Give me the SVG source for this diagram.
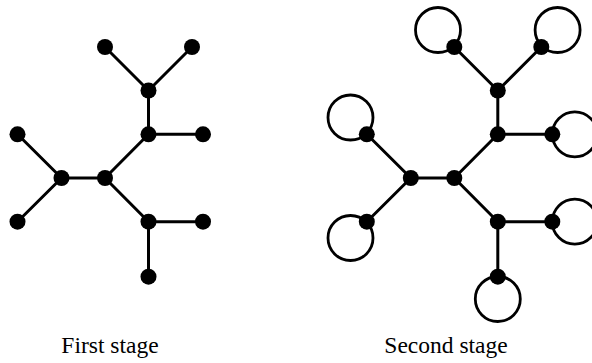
<svg xmlns="http://www.w3.org/2000/svg" width="592" height="363" viewBox="0 0 592 363">
<style>
.e{stroke:#000;stroke-width:3;fill:none;stroke-linecap:round}
.l{stroke:#000;stroke-width:2.8;fill:none}
.n{fill:#000}
.t{font-family:"Liberation Serif","Times New Roman",serif;font-size:23.5px;fill:#000;text-anchor:middle}
</style>
<rect width="592" height="363" fill="#fff"/>
<g id="connectors">
<g id="edges-first">
<line class="e" x1="105" y1="47" x2="148.5" y2="90.5"/>
<line class="e" x1="192" y1="47" x2="148.5" y2="90.5"/>
<line class="e" x1="148.5" y1="90.5" x2="148.5" y2="134.3"/>
<line class="e" x1="148.5" y1="134.3" x2="203" y2="134.3"/>
<line class="e" x1="148.5" y1="134.3" x2="105" y2="178"/>
<line class="e" x1="105" y1="178" x2="61.5" y2="178"/>
<line class="e" x1="61.5" y1="178" x2="17.5" y2="134.3"/>
<line class="e" x1="61.5" y1="178" x2="17.5" y2="221.7"/>
<line class="e" x1="105" y1="178" x2="148.5" y2="221.7"/>
<line class="e" x1="148.5" y1="221.7" x2="203" y2="221.7"/>
<line class="e" x1="148.5" y1="221.7" x2="148.5" y2="276.7"/>
</g>
<g id="edges-second" transform="translate(349.3,0)">
<line class="e" x1="105" y1="47" x2="148.5" y2="90.5"/>
<line class="e" x1="192" y1="47" x2="148.5" y2="90.5"/>
<line class="e" x1="148.5" y1="90.5" x2="148.5" y2="134.3"/>
<line class="e" x1="148.5" y1="134.3" x2="203" y2="134.3"/>
<line class="e" x1="148.5" y1="134.3" x2="105" y2="178"/>
<line class="e" x1="105" y1="178" x2="61.5" y2="178"/>
<line class="e" x1="61.5" y1="178" x2="17.5" y2="134.3"/>
<line class="e" x1="61.5" y1="178" x2="17.5" y2="221.7"/>
<line class="e" x1="105" y1="178" x2="148.5" y2="221.7"/>
<line class="e" x1="148.5" y1="221.7" x2="203" y2="221.7"/>
<line class="e" x1="148.5" y1="221.7" x2="148.5" y2="276.7"/>
</g>
<g id="loops-second" transform="translate(349.3,0)">
<circle class="l" cx="88.7" cy="30" r="22.5"/>
<circle class="l" cx="208.3" cy="30" r="22.5"/>
<circle class="l" cx="225.5" cy="134.3" r="22.5"/>
<circle class="l" cx="1.2" cy="117.5" r="22.5"/>
<circle class="l" cx="1.2" cy="238" r="22.5"/>
<circle class="l" cx="225.5" cy="221.7" r="22.5"/>
<circle class="l" cx="148.5" cy="299" r="22.5"/>
</g>
</g>
<g id="nodes-first">
<g id="f-tl"><circle class="n" cx="105" cy="47" r="8"/></g>
<g id="f-tr"><circle class="n" cx="192" cy="47" r="8"/></g>
<g id="f-a"><circle class="n" cx="148.5" cy="90.5" r="8"/></g>
<g id="f-b"><circle class="n" cx="148.5" cy="134.3" r="8"/></g>
<g id="f-br"><circle class="n" cx="203" cy="134.3" r="8"/></g>
<g id="f-d"><circle class="n" cx="105" cy="178" r="8"/></g>
<g id="f-c"><circle class="n" cx="61.5" cy="178" r="8"/></g>
<g id="f-l1"><circle class="n" cx="17.5" cy="134.3" r="8"/></g>
<g id="f-l2"><circle class="n" cx="17.5" cy="221.7" r="8"/></g>
<g id="f-e"><circle class="n" cx="148.5" cy="221.7" r="8"/></g>
<g id="f-er"><circle class="n" cx="203" cy="221.7" r="8"/></g>
<g id="f-eb"><circle class="n" cx="148.5" cy="276.7" r="8"/></g>
</g>
<g id="nodes-second" transform="translate(349.3,0)">
<g id="s-tl"><circle class="n" cx="105" cy="47" r="8"/></g>
<g id="s-tr"><circle class="n" cx="192" cy="47" r="8"/></g>
<g id="s-a"><circle class="n" cx="148.5" cy="90.5" r="8"/></g>
<g id="s-b"><circle class="n" cx="148.5" cy="134.3" r="8"/></g>
<g id="s-br"><circle class="n" cx="203" cy="134.3" r="8"/></g>
<g id="s-d"><circle class="n" cx="105" cy="178" r="8"/></g>
<g id="s-c"><circle class="n" cx="61.5" cy="178" r="8"/></g>
<g id="s-l1"><circle class="n" cx="17.5" cy="134.3" r="8"/></g>
<g id="s-l2"><circle class="n" cx="17.5" cy="221.7" r="8"/></g>
<g id="s-e"><circle class="n" cx="148.5" cy="221.7" r="8"/></g>
<g id="s-er"><circle class="n" cx="203" cy="221.7" r="8"/></g>
<g id="s-eb"><circle class="n" cx="148.5" cy="276.7" r="8"/></g>
</g>
<g id="labels">
<text class="t" x="110" y="353">First stage</text>
<text class="t" x="446" y="353">Second stage</text>
</g>
</svg>
